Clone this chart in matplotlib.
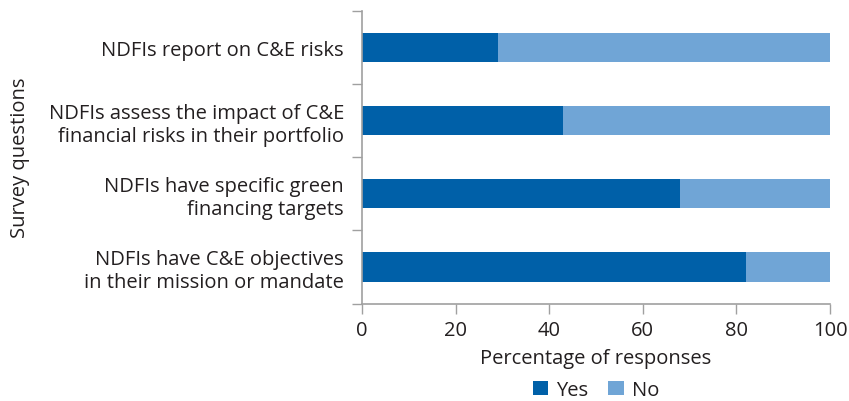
import matplotlib
matplotlib.use("Agg")
import matplotlib.pyplot as plt
import numpy as np

categories = [
    "NDFIs report on C&E risks",
    "NDFIs assess the impact of C&E\nfinancial risks in their portfolio",
    "NDFIs have specific green\nfinancing targets",
    "NDFIs have C&E objectives\nin their mission or mandate",
]
yes_values = [29, 43, 68, 82]
no_values = [100 - v for v in yes_values]
xticks = [0, 20, 40, 60, 80, 100]

plt.rcParams['font.family'] = ['Open Sans', 'DejaVu Sans']
fs = 14.5
text_color = '#231F20'
spine_color = '#A0A0A0'
yes_color = '#0060A8'
no_color = '#70A5D6'

fig = plt.figure(figsize=(8.49, 4.02), dpi=100)
ax = fig.add_axes([362/849, 1 - 304.5/402, (830 - 362)/849, (304.5 - 12)/402])

y = np.arange(len(categories))[::-1]
ax.barh(y, yes_values, height=0.4, color=yes_color, label='Yes')
ax.barh(y, no_values, left=yes_values, height=0.4, color=no_color, label='No')

ax.set_xlim(0, 100)
ax.set_ylim(-0.5, len(categories) - 0.5)
ax.set_xticks(xticks)
ax.set_xticklabels([str(t) for t in xticks], fontsize=fs, color=text_color)

ax.set_yticks(y)
ax.set_yticklabels(categories, fontsize=fs, color=text_color, linespacing=1.2)
ax.tick_params(axis='y', which='major', length=0, pad=13)
ax.set_yticks(np.arange(-0.5, len(categories), 1.0), minor=True)
ax.tick_params(axis='y', which='minor', length=7, color=spine_color, width=1)
ax.tick_params(axis='x', length=7, color=spine_color, width=1, pad=5)

for s in ['top', 'right']:
    ax.spines[s].set_visible(False)
for s in ['left', 'bottom']:
    ax.spines[s].set_color(spine_color)
    ax.spines[s].set_linewidth(1.2)

ax.set_xlabel('Percentage of responses', fontsize=fs, color=text_color, labelpad=6)
fig.text(20/849, 1 - 158/402, 'Survey questions', rotation=90, fontsize=fs,
         color=text_color, ha='center', va='center')

handles, labels = ax.get_legend_handles_labels()
leg = fig.legend(handles, labels, loc='center', bbox_to_anchor=(596/849, 1 - 391/402),
                 ncol=2, frameon=False, fontsize=fs, handlelength=0.75, handleheight=0.75,
                 handletextpad=0.4, columnspacing=1.0, labelcolor=text_color,
                 borderpad=0, borderaxespad=0)

fig.savefig('out.png', dpi=100)
